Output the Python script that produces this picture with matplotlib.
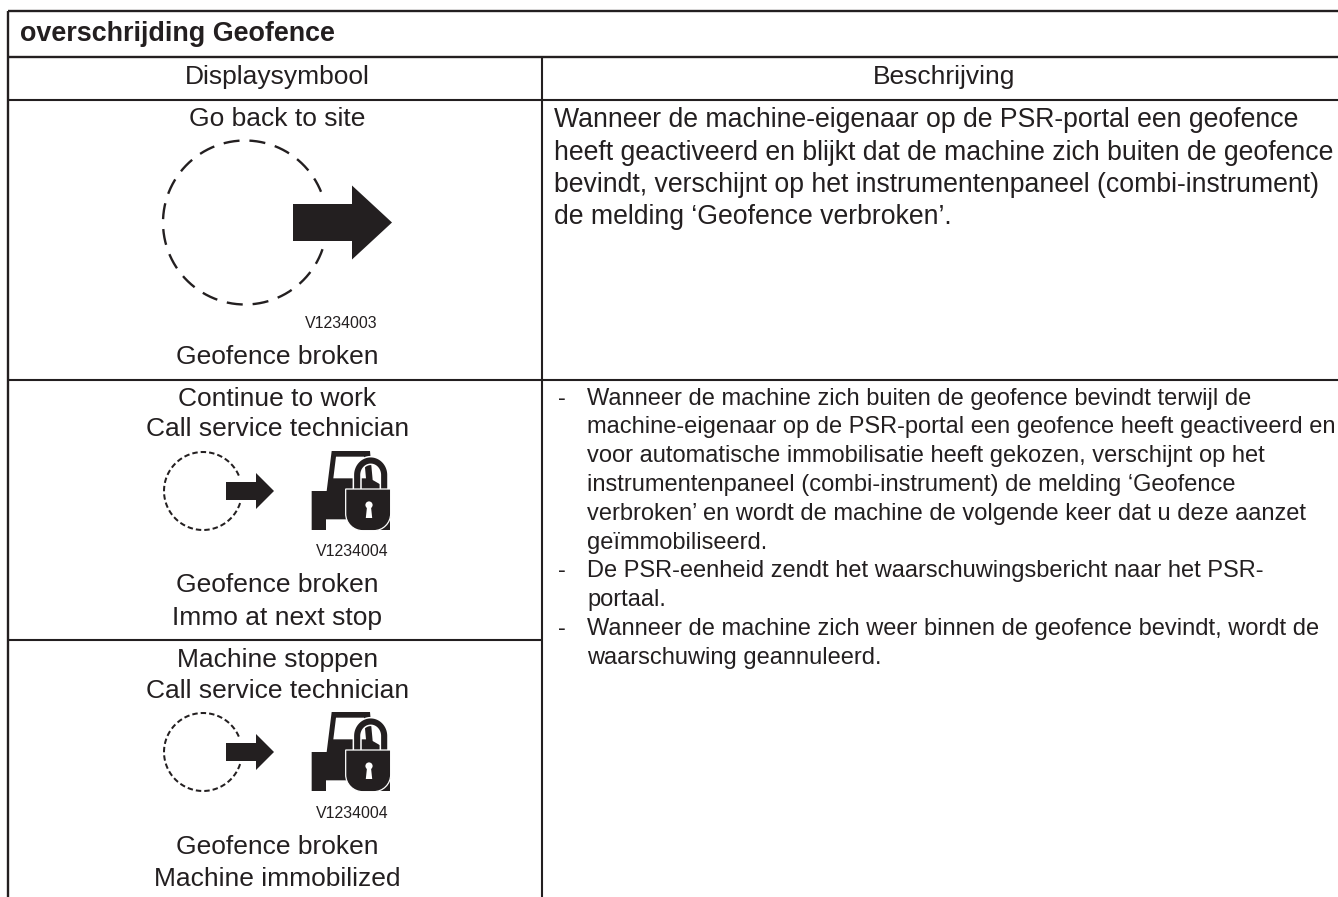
import matplotlib
matplotlib.use("Agg")
import matplotlib.pyplot as plt
import numpy as np
from matplotlib.patches import Polygon, PathPatch, Circle
from matplotlib.path import Path

W, H = 1338, 897
INK = "#231f20"
plt.rcParams["font.family"] = ["Liberation Sans", "DejaVu Sans"]

title = "overschrijding Geofence"
col_heads = ["Displaysymbool", "Beschrijving"]
left_lines = [
    ("Go back to site", 118.5), ("Geofence broken", 356.5),
    ("Continue to work", 398.5), ("Call service technician", 429.5),
    ("Geofence broken", 585.5), ("Immo at next stop", 617.5),
    ("Machine stoppen", 659.5), ("Call service technician", 691.5),
    ("Geofence broken", 846.5), ("Machine immobilized", 878.5),
]
codes = [("V1234003", 341, 323), ("V1234004", 352.5, 552), ("V1234004", 352.5, 813)]
para = [
    "Wanneer de machine-eigenaar op de PSR-portal een geofence",
    "heeft geactiveerd en blijkt dat de machine zich buiten de geofence",
    "bevindt, verschijnt op het instrumentenpaneel (combi-instrument)",
    "de melding ‘Geofence verbroken’.",
]
para_y = [120, 153, 185, 217]
bullets = [
    ("-", "Wanneer de machine zich buiten de geofence bevindt terwijl de", 399),
    ("", "machine-eigenaar op de PSR-portal een geofence heeft geactiveerd en", 427),
    ("", "voor automatische immobilisatie heeft gekozen, verschijnt op het", 456),
    ("", "instrumentenpaneel (combi-instrument) de melding ‘Geofence", 485),
    ("", "verbroken’ en wordt de machine de volgende keer dat u deze aanzet", 514),
    ("", "geïmmobiliseerd.", 543),
    ("-", "De PSR-eenheid zendt het waarschuwingsbericht naar het PSR-", 571),
    ("", "portaal.", 600),
    ("-", "Wanneer de machine zich weer binnen de geofence bevindt, wordt de", 629),
    ("", "waarschuwing geannuleerd.", 658),
]

fig = plt.figure(figsize=(W / 100, H / 100), dpi=100, facecolor="white")
ax = fig.add_axes([0, 0, 1, 1])
ax.set_xlim(0, W)
ax.set_ylim(H, 0)
ax.axis("off")


def rule(x0, y0, x1, y1, lw=1.5):
    ax.plot([x0, x1], [y0, y1], color=INK, lw=lw, solid_capstyle="butt")


rule(8, 11.5, W, 11.5, 1.7)
rule(8, 57.5, W, 57.5, 1.7)
rule(8, 100, W, 100, 1.5)
rule(8, 380, W, 380, 1.5)
rule(8, 640, 542, 640, 1.5)
rule(8, 11, 8, H, 1.7)
rule(542, 57.5, 542, H, 1.5)

ax.text(20, 34, title, fontsize=19.4, fontweight="bold", color=INK, va="center")
ax.text(277.5, 77, col_heads[0], fontsize=19, color=INK, ha="center", va="center")
ax.text(944, 77, col_heads[1], fontsize=19, color=INK, ha="center", va="center")
for s, y in left_lines:
    ax.text(277.5, y, s, fontsize=19, color=INK, ha="center", va="center")
for s, x, y in codes:
    ax.text(x, y, s, fontsize=11.4, color=INK, ha="center", va="center")
for s, y in zip(para, para_y):
    ax.text(554, y, s, fontsize=19.2, color=INK, va="center")
for d, s, y in bullets:
    if d:
        ax.text(558, y, d, fontsize=17, color=INK, va="center")
    ax.text(587, y, s, fontsize=17.05, color=INK, va="center")


def dashed_circle(cx, cy, r, a0, a1, lw, dash):
    t = np.radians(np.linspace(a0, a1, 300))
    ax.plot(cx + r * np.cos(t), cy + r * np.sin(t), color=INK, lw=lw, ls=(0, dash), dash_capstyle="butt", zorder=4)


def arrow(x0, x1, x2, yc, hb, hh):
    ax.add_patch(Polygon([(x0, yc - hb), (x1, yc - hb), (x1, yc - hh), (x2, yc), (x1, yc + hh), (x1, yc + hb), (x0, yc + hb)],
                         fc=INK, ec="none", zorder=3))


def tractor(dy):
    def P(x, y):
        return (300 + x / 3, 440 + dy + y / 3)

    def poly(pts, **kw):
        ax.add_patch(Polygon([P(*p) for p in pts], ec="none", **kw))

    poly([(35, 153), (80, 153), (95, 33), (210, 33), (218, 120), (270, 150), (270, 270),
          (190, 270), (140, 238), (78, 238), (78, 270), (35, 270)], fc=INK, zorder=3)
    poly([(108, 50), (192, 50), (198, 115), (100, 115)], fc="white", zorder=4)
    # shackle
    cx, cy = P(212, 105)
    th = np.radians(np.linspace(180, 360, 60))
    rx, ry = 13.5, 14.5
    sx = np.r_[cx - rx, cx + rx * np.cos(th), cx + rx]
    sy = np.r_[cy + 16, cy + ry * np.sin(th), cy + 16]
    ax.plot(sx, sy, color="white", lw=6.6, zorder=5, solid_capstyle="butt")
    ax.plot(sx, sy, color=INK, lw=4.4, zorder=6, solid_capstyle="butt")
    # lock body
    x0, x1 = P(137, 0)[0], P(272, 0)[0]
    y0, y1 = P(0, 147)[1], P(0, 272)[1]
    r = 17
    k = 0.55 * r
    verts = [(x0, y0), (x1, y0), (x1, y1 - r), (x1, y1 - r + k), (x1 - r + k, y1), (x1 - r, y1),
             (x0 + r, y1), (x0 + r - k, y1), (x0, y1 - r + k), (x0, y1 - r), (x0, y0)]
    codes_ = [Path.MOVETO, Path.LINETO, Path.LINETO, Path.CURVE4, Path.CURVE4, Path.CURVE4,
              Path.LINETO, Path.CURVE4, Path.CURVE4, Path.CURVE4, Path.CLOSEPOLY]
    ax.add_patch(PathPatch(Path(verts, codes_), fc=INK, ec="white", lw=0.9, zorder=7))
    # keyhole
    kx, ky = P(207, 195)
    ax.add_patch(Circle((kx, ky), 3.6, fc="white", ec="none", zorder=8))
    ax.add_patch(Polygon([(kx - 1.8, ky), (kx + 1.8, ky), (kx + 3.2, ky + 13), (kx - 3.2, ky + 13)],
                         fc="white", ec="none", zorder=8))


dashed_circle(245, 222.5, 82, 19, 338, 1.7, (6.8, 4.2))
arrow(293, 352, 392, 222.5, 18.5, 37)
dashed_circle(203, 491, 39, 18, 340, 1.45, (2.7, 1.5))
arrow(226, 256, 274, 491, 9, 18)
tractor(0)
dashed_circle(203, 752, 39, 18, 340, 1.45, (2.7, 1.5))
arrow(226, 256, 274, 752, 9, 18)
tractor(261)

fig.savefig("out.png", dpi=100, facecolor="white")
